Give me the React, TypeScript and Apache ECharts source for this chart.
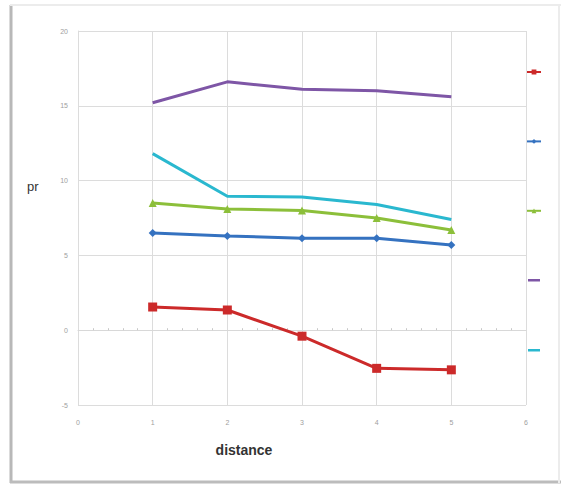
import React, { useEffect, useRef } from "react";
import * as echarts from "echarts";

const xValues = [1, 2, 3, 4, 5];
const seriesNames = ["S1", "S2", "S3", "S4", "S5"];
const redValues = [1.55, 1.35, -0.4, -2.55, -2.65];
const blueValues = [6.5, 6.3, 6.15, 6.15, 5.7];
const greenValues = [8.5, 8.1, 8.0, 7.5, 6.7];
const purpleValues = [15.2, 16.6, 16.1, 16.0, 15.6];
const cyanValues = [11.8, 8.95, 8.9, 8.4, 7.4];
const yTitle = "pr";
const xTitle = "distance";

const pairs = (vals: number[]) => xValues.map((x, i) => [x, vals[i]]);

export default function App() {
  const ref = useRef<HTMLDivElement>(null);
  useEffect(() => {
    if (!ref.current) return;
    const chart = echarts.init(ref.current, null, { renderer: "svg" });
    const labelStyle = { color: "#a0a0a0", fontSize: 7, fontFamily: "Liberation Sans" };
    const mk = (name: string, vals: number[], color: string, symbol: string, size: number, width: number) => ({
      name,
      type: "line",
      data: pairs(vals),
      symbol,
      symbolSize: size,
      showSymbol: symbol !== "none",
      lineStyle: { color, width },
      itemStyle: { color },
      z: 3,
    });
    const barIcon = "path://M0,0 L0.01,0 M0,2 L14,2 L14,5 L0,5 Z M14,7 L13.99,7";
    chart.setOption({
      animation: false,
      backgroundColor: "#ffffff",
      grid: { left: 78, right: 35, top: 31, bottom: 79, containLabel: false },
      legend: {
        orient: "vertical",
        left: 521,
        top: 64,
        itemWidth: 14,
        itemHeight: 6,
        itemGap: 64,
        formatter: () => "",
        textStyle: { fontSize: 10 },
        selectedMode: false,
        data: [
          seriesNames[0],
          seriesNames[1],
          seriesNames[2],
          { name: seriesNames[3], icon: barIcon },
          { name: seriesNames[4], icon: barIcon },
        ],
      },
      xAxis: [
        {
          type: "value",
          min: 0,
          max: 6,
          interval: 1,
          position: "bottom",
          axisLine: { show: false, onZero: false },
          axisTick: { show: false },
          axisLabel: { ...labelStyle, margin: 14 },
          splitLine: { show: true, lineStyle: { color: "#dcdcdc", width: 1 } },
          name: xTitle,
          nameLocation: "middle",
          nameGap: 38,
          nameTextStyle: { color: "#333333", fontSize: 14, fontWeight: "bold", fontFamily: "Liberation Sans Narrow, Liberation Sans", padding: [0, 116, 0, 0] },
        },
        {
          type: "value",
          min: 0,
          max: 6,
          interval: 1,
          position: "top",
          axisLine: { show: true, onZero: true, lineStyle: { color: "#d8d8d8" } },
          axisTick: { show: false },
          minorTick: { show: true, splitNumber: 5, length: 2, lineStyle: { color: "#c8c8c8" } },
          axisLabel: { show: false },
          splitLine: { show: false },
        },
      ],
      yAxis: {
        type: "value",
        min: -5,
        max: 20,
        interval: 5,
        axisLine: { show: true, lineStyle: { color: "#dcdcdc" } },
        axisTick: { show: false },
        axisLabel: { ...labelStyle, margin: 10 },
        splitLine: { show: true, lineStyle: { color: "#dcdcdc", width: 1 } },
      },
      series: [
        mk(seriesNames[0], redValues, "#cc2a2a", "rect", 9, 3),
        mk(seriesNames[1], blueValues, "#3572c0", "diamond", 8, 3),
        mk(seriesNames[2], greenValues, "#8cbf3a", "triangle", 8, 3),
        mk(seriesNames[3], purpleValues, "#7e56a6", "none", 0, 3),
        mk(seriesNames[4], cyanValues, "#2ab8cf", "none", 0, 3),
      ],
      graphic: [
        { type: "line", shape: { x1: 11, y1: 5, x2: 11, y2: 483 }, style: { stroke: "#b8b8b8", lineWidth: 3 } },
        { type: "line", shape: { x1: 10, y1: 482, x2: 561, y2: 482 }, style: { stroke: "#bcbcbc", lineWidth: 3 } },
        { type: "line", shape: { x1: 10, y1: 5, x2: 561, y2: 5 }, style: { stroke: "#ececec", lineWidth: 2 } },
        { type: "line", shape: { x1: 559, y1: 5, x2: 559, y2: 483 }, style: { stroke: "#ececec", lineWidth: 2 } },
        {
          type: "text",
          x: 27,
          y: 186,
          style: { text: yTitle, fill: "#333333", fontSize: 13, fontFamily: "Liberation Sans", verticalAlign: "middle", align: "left" },
        },
      ],
    });
    return () => chart.dispose();
  }, []);
  return <div ref={ref} style={{ width: 561, height: 484, position: "absolute", left: 0, top: 0 }} />;
}
